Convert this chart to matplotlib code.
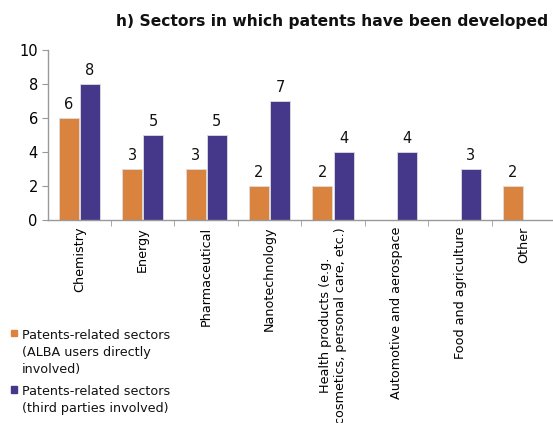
import numpy as np
import matplotlib.pyplot as plt
from matplotlib.patches import Rectangle

plt.rcParams['font.family'] = ['DejaVu Sans']

# sectors and patent counts
sectors = ['Chemistry', 'Energy', 'Pharmaceutical', 'Nanotechnology',
           'Health products (e.g.\ncosmetics, personal care, etc.)',
           'Automotive and aerospace', 'Food and agriculture', 'Other']
alba_users = [6, 3, 3, 2, 2, np.nan, np.nan, 2]
third_parties = [8, 5, 5, 7, 4, 4, 3, np.nan]
series_names = ['Patents-related sectors\n(ALBA users directly\ninvolved)',
                'Patents-related sectors\n(third parties involved)']

orange = '#D9833F'
purple = '#45388B'

fig = plt.figure(figsize=(5.53, 4.23), dpi=100)
ax = fig.add_axes([0.086, 0.48, 0.918, 0.402])

x = np.arange(len(sectors))
w = 0.315
b1 = ax.bar(x - w / 2 - 0.01, alba_users, w, color=orange, edgecolor='#dddddd', linewidth=0.6)
b2 = ax.bar(x + w / 2 + 0.01, third_parties, w, color=purple, edgecolor='#dddddd', linewidth=0.6)

# value labels above bars
for bars, vals in ((b1, alba_users), (b2, third_parties)):
    for rect, v in zip(bars, vals):
        if np.isnan(v):
            continue
        ax.annotate(f'{v:g}', (rect.get_x() + rect.get_width() / 2, v),
                    xytext=(0, 4), textcoords='offset points',
                    ha='center', va='bottom', fontsize=10.5, color='#111111')

ax.set_xlim(-0.5, len(sectors) - 0.5)
ax.set_ylim(0, 10)
ax.set_yticks([0, 2, 4, 6, 8, 10])

ax.set_xticks(x)
ax.set_xticklabels(sectors, rotation=90, ha='center', va='top', fontsize=9.2,
                   linespacing=1.15)
ax.tick_params(axis='x', which='major', length=0, pad=5)
ax.set_xticks(np.arange(len(sectors)) + 0.5, minor=True)
ax.tick_params(axis='x', which='minor', length=4, color='#999999', direction='out')
ax.tick_params(axis='y', length=4, color='#999999', labelsize=10.5, pad=3)

for s in ('top', 'right'):
    ax.spines[s].set_visible(False)
for s in ('left', 'bottom'):
    ax.spines[s].set_color('#999999')
    ax.spines[s].set_linewidth(1.0)

fig.text(0.991, 0.948, 'h) Sectors in which patents have been developed',
         ha='right', va='center', fontsize=11.2, fontweight='bold', color='#111111')

# legend: small square beside the first line of each entry
for name, col, ytop in zip(series_names, (orange, purple), (0.222, 0.089)):
    fig.patches.append(Rectangle((0.02, ytop - 0.017), 0.011, 0.015,
                                 transform=fig.transFigure, color=col))
    fig.text(0.040, ytop, name, ha='left', va='top', fontsize=9.2,
             linespacing=1.4, color='#111111')

fig.savefig('out.png', dpi=100)
